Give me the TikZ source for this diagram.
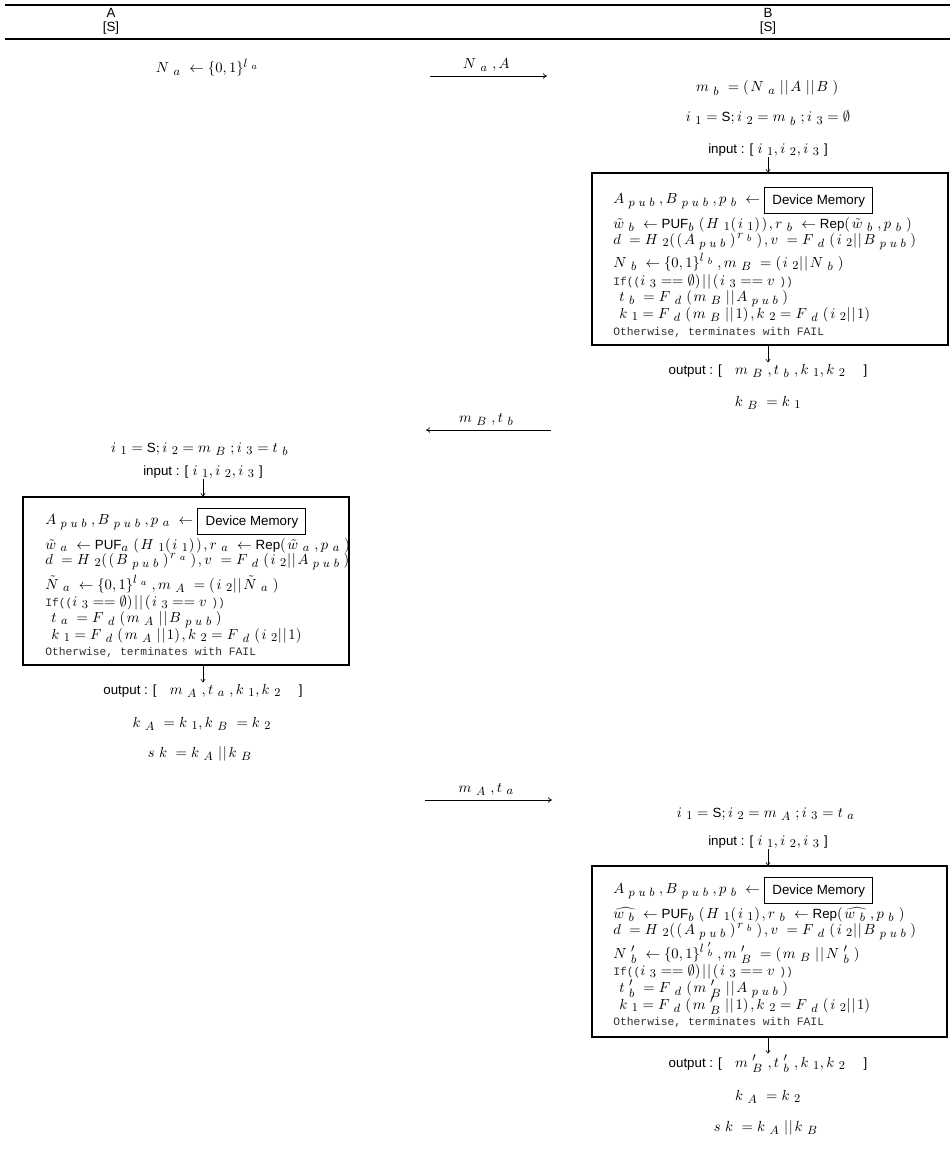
\documentclass[tikz,border=0pt]{standalone}
\usepackage{fontspec}
\setsansfont{Liberation Sans}
\setmonofont{Liberation Mono}
\usetikzlibrary{fit,arrows.meta}
\DeclareMathSizes{10}{10.5}{9}{7}
% letter-spaced math letters and digits, as in the reference
\def\defsp#1#2{%
  \begingroup\lccode`\~=`#1\relax
  \lowercase{\endgroup\def~}{\mathchar"#2\relax\mkern5.5mu\relax}%
  \mathcode`#1="8000\relax}
\defsp a{7161}\defsp b{7162}\defsp d{7164}\defsp i{7169}\defsp k{716B}
\defsp l{716C}\defsp m{716D}\defsp p{7170}\defsp r{7172}\defsp s{7173}
\defsp t{7174}\defsp u{7175}\defsp v{7176}\defsp w{7177}
\defsp A{7141}\defsp B{7142}\defsp F{7146}\defsp H{7148}\defsp N{714E}
\defsp 0{7030}\defsp 1{7031}\defsp 2{7032}\defsp 3{7033}
\newcommand{\Lp}{(\mkern2mu}
\newcommand{\Rp}{)\mkern2mu}
\newcommand{\Cc}{|\mkern1mu|\mkern2mu}
\newcommand{\tw}{\tilde{\mathchar"7177}\mkern5.5mu}
\newcommand{\tN}{\tilde{\mathchar"714E}\mkern5.5mu}
\newcommand{\tts}[1]{{\fontsize{8.5}{10}\selectfont\ttfamily\color{black!80}#1}}
\newcommand{\iftest}{\tts{If((}$i_3 == \emptyset\Rp\Cc\Lp i_3 == v$\tts{))}}
\newcommand{\failtxt}{\tts{Otherwise, terminates with FAIL}}
\tikzset{
  txt/.style={anchor=base, inner sep=1pt},
  row/.style={anchor=base west, inner sep=0pt},
  mem/.style={draw, line width=0.8pt, font=\sffamily, anchor=west, minimum width=81pt, minimum height=19.5pt, inner sep=0pt},
  procbox/.style={draw, line width=0.8pt, inner sep=0pt},
  msg/.style={-{To[length=3pt,width=4pt]}, line width=0.5pt},
  downarr/.style={-{To[length=2.5pt,width=3.5pt]}, line width=0.45pt},
  hrule/.style={line width=0.9pt},
  hdr/.style={font=\sffamily\fontsize{10}{10.5}\selectfont, align=center, inner sep=0pt}
}
\begin{document}
\begin{tikzpicture}[x=0.75pt,y=-0.75pt]
\useasboundingbox (0,0) rectangle (950,1159);
% header
\coordinate (r1a) at (5,5); \coordinate (r1b) at (950,5);
\coordinate (r2a) at (5,39); \coordinate (r2b) at (950,39);
\draw[hrule] (r1a) -- (r1b);
\draw[hrule] (r2a) -- (r2b);
\node[hdr] (hA) at (111,21.5) {A\\{[S]}};
\node[hdr] (hB) at (768,21.5) {B\\{[S]}};

% step 1
\node[txt] (na) at (209,73) {$N_a \leftarrow \{0, 1\}^{l_a}$};
\coordinate (m1s) at (430,76); \coordinate (m1e) at (547,76);
\draw[msg] (m1s) -- node[above=3pt, inner sep=0pt] (m1l) {$N_a, A$} (m1e);

% B first
\node[txt] (mb) at (768,92) {$m_b = \Lp N_a\Cc A\Cc B\Rp$};
\node[txt] (iB1) at (768,122) {$i_1 = \textsf{S}; i_2 = m_b; i_3 = \emptyset$};
\node[txt] (inB1) at (768,153) {\textsf{input : [} $i_1, i_2, i_3$ \textsf{]}};
\coordinate (b1tl) at (592,173); \coordinate (b1br) at (948,345);
\node[procbox, fit=(b1tl)(b1br)] (boxB1) {};
\draw[downarr] (inB1.south) -- (inB1.south |- boxB1.north);
\node[row] (rB1a) at (613,203) {$A_{pub}, B_{pub}, p_b \leftarrow$};
\node[mem] (memB1) at ([xshift=3pt]rB1a.east) {Device Memory};
\node[row] (rB1b) at (613,228) {$\tw_b \leftarrow \textsf{PUF}_b\Lp H_1\Lp i_1\Rp\Rp, r_b \leftarrow \textsf{Rep}\Lp\tw_b, p_b\Rp$};
\node[row] (rB1c) at (613,244) {$d = H_2\Lp\Lp A_{pub}\Rp^{r_b}\Rp, v = F_d\Lp i_2\Cc B_{pub}\Rp$};
\node[row] (rB1d) at (613,267) {$N_b \leftarrow \{0, 1\}^{l_b}, m_B = \Lp i_2\Cc N_b\Rp$};
\node[row] (rB1e) at (613,285) {\iftest};
\node[row] (rB1f) at (619,301) {$t_b = F_d\Lp m_B\Cc A_{pub}\Rp$};
\node[row] (rB1g) at (619,318) {$k_1 = F_d\Lp m_B\Cc 1\Rp, k_2 = F_d\Lp i_2\Cc 1\Rp$};
\node[row] (rB1h) at (613,335) {\failtxt};
\node[txt] (outB1) at (768,374) {\textsf{output : [}\quad $m_B, t_b, k_1, k_2$ \quad\textsf{]}};
\draw[downarr] (boxB1.south -| outB1.north) -- (outB1.north);
\node[txt] (kB1) at (768,406) {$k_B = k_1$};

% message 2
\coordinate (m2s) at (551,430); \coordinate (m2e) at (426,430);
\draw[msg] (m2s) -- node[above=3pt, inner sep=0pt] (m2l) {$m_B, t_b$} (m2e);

% A
\node[txt] (iA) at (202,452) {$i_1 = \textsf{S}; i_2 = m_B; i_3 = t_b$};
\node[txt] (inA) at (203,475) {\textsf{input : [} $i_1, i_2, i_3$ \textsf{]}};
\coordinate (atl) at (23,497); \coordinate (abr) at (349,665);
\node[procbox, fit=(atl)(abr)] (boxA) {};
\draw[downarr] (inA.south) -- (inA.south |- boxA.north);
\node[row] (rAa) at (45,524) {$A_{pub}, B_{pub}, p_a \leftarrow$};
\node[mem] (memA) at ([xshift=3pt]rAa.east) {Device Memory};
\node[row] (rAb) at (45,549) {$\tw_a \leftarrow \textsf{PUF}_a\Lp H_1\Lp i_1\Rp\Rp, r_a \leftarrow \textsf{Rep}\Lp\tw_a, p_a\Rp$};
\node[row] (rAc) at (45,564) {$d = H_2\Lp\Lp B_{pub}\Rp^{r_a}\Rp, v = F_d\Lp i_2\Cc A_{pub}\Rp$};
\node[row] (rAd) at (45,589) {$\tN_a \leftarrow \{0, 1\}^{l_a}, m_A = \Lp i_2\Cc\tN_a\Rp$};
\node[row] (rAe) at (45,606) {\iftest};
\node[row] (rAf) at (51,622) {$t_a = F_d\Lp m_A\Cc B_{pub}\Rp$};
\node[row] (rAg) at (51,639) {$k_1 = F_d\Lp m_A\Cc 1\Rp, k_2 = F_d\Lp i_2\Cc 1\Rp$};
\node[row] (rAh) at (45,655) {\failtxt};
\node[txt] (outA) at (203,694) {\textsf{output : [}\quad $m_A, t_a, k_1, k_2$ \quad\textsf{]}};
\draw[downarr] (boxA.south -| outA.north) -- (outA.north);
\node[txt] (kA) at (202,727) {$k_A = k_1, k_B = k_2$};
\node[txt] (skA) at (202,757) {$sk = k_A\Cc k_B$};

% message 3
\coordinate (m3s) at (425,800); \coordinate (m3e) at (552,800);
\draw[msg] (m3s) -- node[above=3pt, inner sep=0pt] (m3l) {$m_A, t_a$} (m3e);

% B second
\node[txt] (iB2) at (768,817) {$i_1 = \textsf{S}; i_2 = m_A; i_3 = t_a$};
\node[txt] (inB2) at (768,845) {\textsf{input : [} $i_1, i_2, i_3$ \textsf{]}};
\coordinate (b2tl) at (592,866); \coordinate (b2br) at (947,1037);
\node[procbox, fit=(b2tl)(b2br)] (boxB2) {};
\draw[downarr] (inB2.south) -- (inB2.south |- boxB2.north);
\node[row] (rB2a) at (613,893) {$A_{pub}, B_{pub}, p_b \leftarrow$};
\node[mem] (memB2) at ([xshift=3pt]rB2a.east) {Device Memory};
\node[row] (rB2b) at (613,918) {$\widehat{w_b} \leftarrow \textsf{PUF}_b\Lp H_1\Lp i_1\Rp, r_b \leftarrow \textsf{Rep}\Lp\widehat{w_b}, p_b\Rp$};
\node[row] (rB2c) at (613,934) {$d = H_2\Lp\Lp A_{pub}\Rp^{r_b}\Rp, v = F_d\Lp i_2\Cc B_{pub}\Rp$};
\node[row] (rB2d) at (613,958) {$N'_b \leftarrow \{0, 1\}^{l'_b}, m'_B = \Lp m_B\Cc N'_b\Rp$};
\node[row] (rB2e) at (613,975) {\iftest};
\node[row] (rB2f) at (619,992) {$t'_b = F_d\Lp m'_B\Cc A_{pub}\Rp$};
\node[row] (rB2g) at (619,1009) {$k_1 = F_d\Lp m'_B\Cc 1\Rp, k_2 = F_d\Lp i_2\Cc 1\Rp$};
\node[row] (rB2h) at (613,1025) {\failtxt};
\node[txt] (outB2) at (768,1067) {\textsf{output : [}\quad $m'_B, t'_b, k_1, k_2$ \quad\textsf{]}};
\draw[downarr] (boxB2.south -| outB2.north) -- (outB2.north);
\node[txt] (kB2) at (768,1100) {$k_A = k_2$};
\node[txt] (skB2) at (768,1131) {$sk = k_A\Cc k_B$};
\end{tikzpicture}
\end{document}
